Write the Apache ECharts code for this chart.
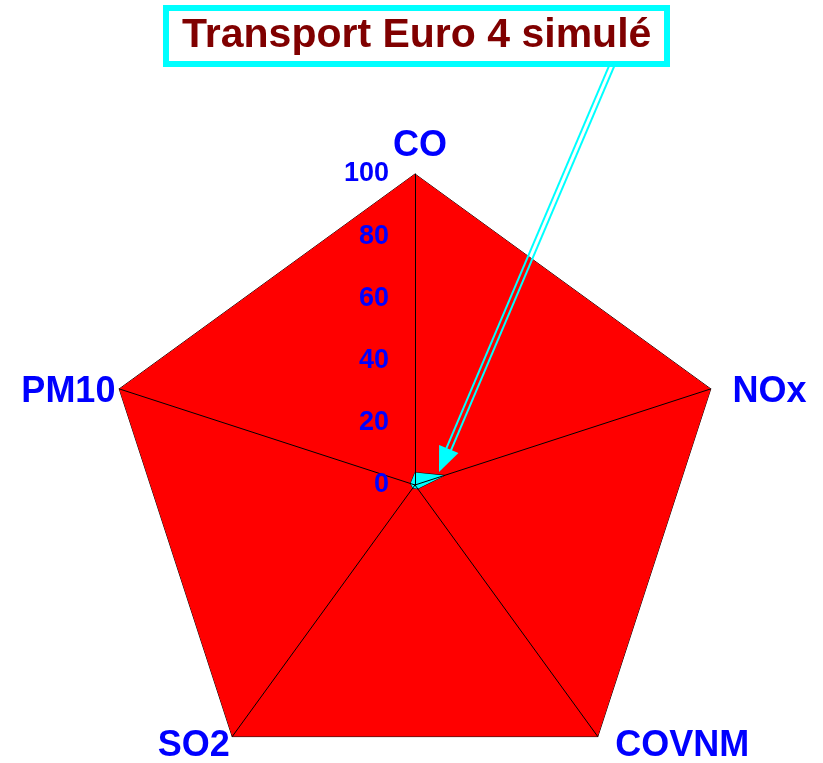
<!DOCTYPE html>
<html>
<head>
<meta charset="utf-8">
<script src="https://cdn.jsdelivr.net/npm/echarts@6/dist/echarts.min.js"></script>
<style>
html,body{margin:0;padding:0;background:#fff;}
#main{width:823px;height:763px;}
</style>
</head>
<body>
<div id="main"></div>
<script>
// ---- data ----
var indicatorNames = ['CO', 'PM10', 'SO2', 'COVNM', 'NOx']; // counter-clockwise from top
var referenceValues = [100, 100, 100, 100, 100];
var simulatedValues = [4, 1.5, 1.2, 1.5, 10];
var axisMax = 100;
var titleText = 'Transport Euro 4 simulé';

// ---- layout ----
var CX = 415, CY = 485, R = 311;
var FONT = 'Arial, "Liberation Sans", Helvetica, sans-serif';
// per-name padding [top, right, bottom, left] to fine-tune label placement
var namePads = {
  'CO': [0, 0, 6, 10],
  'PM10': [9, 0, 0, 0],
  'SO2': [13, 0, 0, 0],
  'COVNM': [13, 0, 0, 15],
  'NOx': [9, 0, 0, 18]
};

var chart = echarts.init(document.getElementById('main'), null, {renderer: 'canvas'});

var indicators = indicatorNames.map(function (n, i) {
  var o = {name: n, max: axisMax, min: 0};
  if (i === 0) o.axisLabel = {show: true};
  return o;
});

var rich = {};
indicatorNames.forEach(function (n, i) {
  rich['n' + i] = {fontFamily: FONT, fontSize: 36, fontWeight: 'bold', color: '#0000ff', padding: namePads[n]};
});

// arrow annotation (from title box down to the simulated polygon)
var arrowStart = [612.5, 64];
var arrowTip = [CX + 24, CY - 13];
var dx = arrowTip[0] - arrowStart[0], dy = arrowTip[1] - arrowStart[1];
var len = Math.sqrt(dx * dx + dy * dy);
var ux = dx / len, uy = dy / len, nx = -uy, ny = ux;
var headLen = 25, headHalf = 10.5, gap = 2.5;
var base = [arrowTip[0] - ux * headLen, arrowTip[1] - uy * headLen];
var graphics = [-1, 1].map(function (s) {
  return {
    type: 'line', z: 100,
    shape: {x1: arrowStart[0] + s * gap * nx, y1: arrowStart[1] + s * gap * ny,
            x2: base[0] + s * gap * nx + ux * 2, y2: base[1] + s * gap * ny + uy * 2},
    style: {stroke: '#00ffff', lineWidth: 2}
  };
});
graphics.push({
  type: 'polygon', z: 100,
  shape: {points: [arrowTip, [base[0] + headHalf * nx, base[1] + headHalf * ny], [base[0] - headHalf * nx, base[1] - headHalf * ny]]},
  style: {fill: '#00ffff'}
});

chart.setOption({
  backgroundColor: '#ffffff',
  animation: false,
  title: {
    text: titleText,
    left: 166, top: 8,
    padding: [5, 16],
    borderColor: '#00ffff', borderWidth: 6,
    backgroundColor: '#ffffff',
    textStyle: {fontFamily: FONT, fontSize: 41, fontWeight: 'bold', color: '#800000', lineHeight: 46}
  },
  radar: {
    z: 5,
    center: [CX, CY],
    radius: R,
    shape: 'polygon',
    splitNumber: 5,
    indicator: indicators,
    nameGap: 4,
    axisName: {
      fontFamily: FONT, fontSize: 36, fontWeight: 'bold', color: '#0000ff',
      formatter: function (name) { return '{n' + indicatorNames.indexOf(name) + '|' + name + '}'; },
      rich: rich
    },
    axisLine: {show: true, lineStyle: {color: '#000', width: 1}},
    axisTick: {show: false},
    axisLabel: {show: false, margin: 26, fontFamily: FONT, fontSize: 27, fontWeight: 'bold', color: '#0000ff'},
    splitLine: {show: false},
    splitArea: {show: false}
  },
  series: [{
    type: 'radar',
    z: 2,
    symbol: 'none',
    data: [
      {value: referenceValues, areaStyle: {color: '#ff0000', opacity: 1}, lineStyle: {color: '#000', width: 1}},
      {value: simulatedValues, areaStyle: {color: '#00ffff', opacity: 1}, lineStyle: {color: '#000', width: 1}}
    ]
  }],
  graphic: graphics
});
</script>
</body>
</html>
